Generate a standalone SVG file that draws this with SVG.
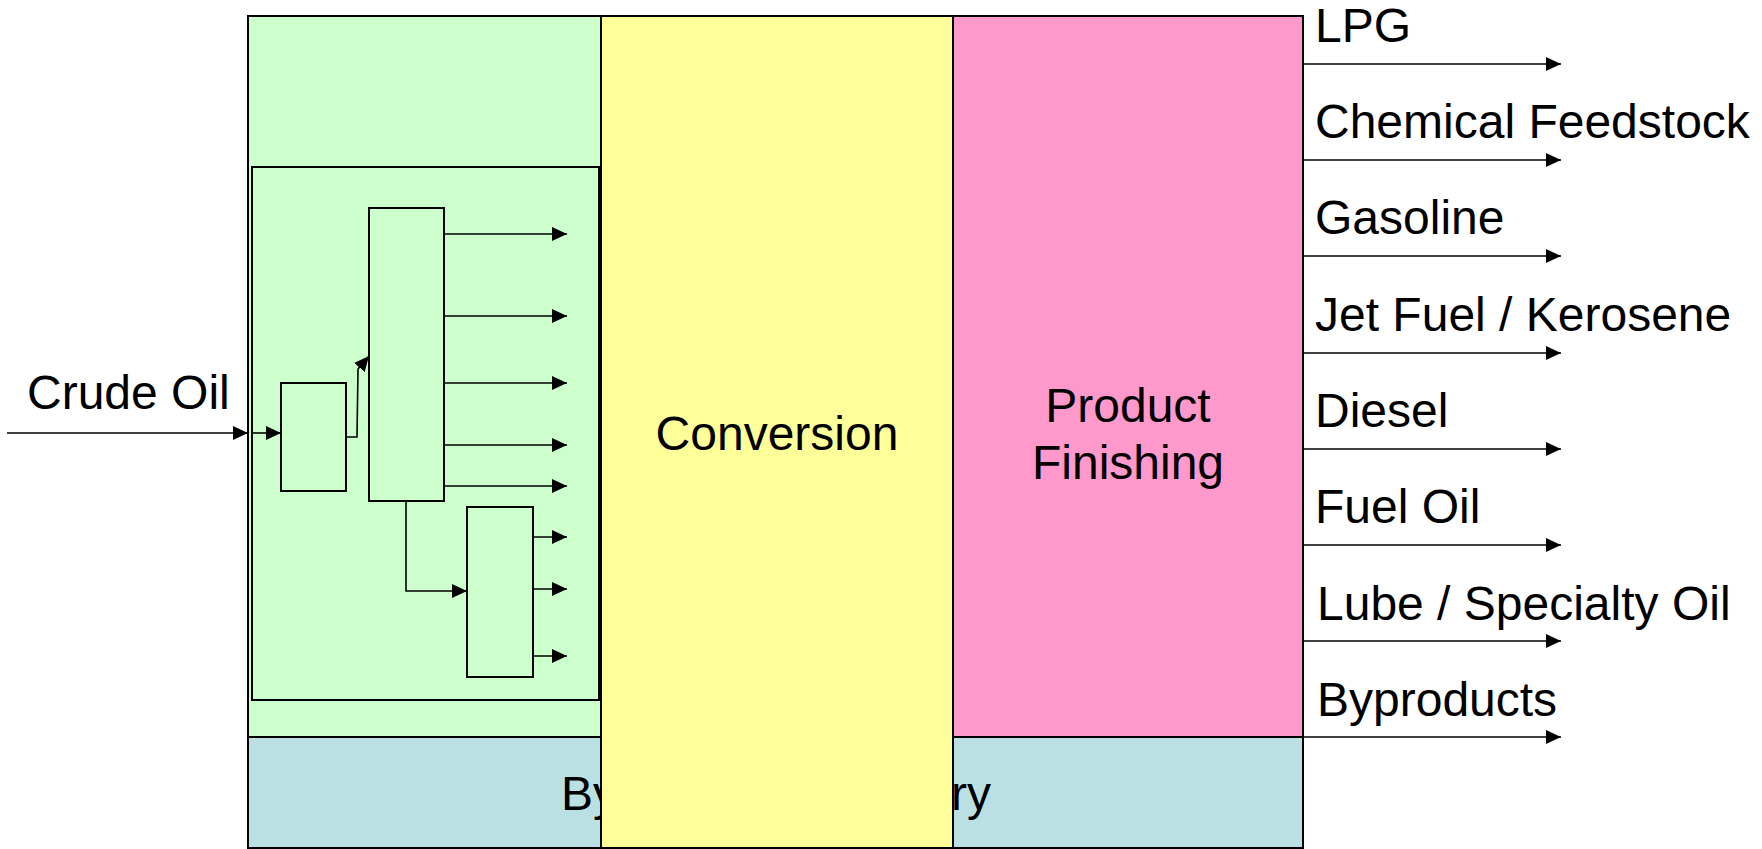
<svg xmlns="http://www.w3.org/2000/svg" width="1762" height="849" viewBox="0 0 1762 849">
<defs>
<style>
.box{stroke:#000;stroke-width:2}
.unit{fill:#CCFFCC;stroke:#000;stroke-width:2}
.ln{fill:none;stroke:#000;stroke-width:1.6;marker-end:url(#ah)}
.t{font-family:"Liberation Sans",Arial,sans-serif;font-size:48px;fill:#000}
</style>
<marker id="ah" viewBox="0 0 15 14" refX="15" refY="7" markerWidth="15" markerHeight="14" markerUnits="userSpaceOnUse" orient="auto">
<path d="M0,0 L15,7 L0,14 Z" fill="#000"/>
</marker>
</defs>
<rect width="1762" height="849" fill="#fff"/>
<g id="separation">
<rect class="box" x="248" y="16" width="353" height="721" fill="#CCFFCC"/>
</g>
<g id="support">
<rect class="box" x="248" y="737" width="1055" height="111" fill="#BBE0E3"/>
<text class="t" x="561" y="810">By</text>
<text class="t" x="991" y="810" text-anchor="end">ry</text>
</g>
<g id="conversion">
<rect class="box" x="601" y="16" width="352" height="832" fill="#FFFF99"/>
<text class="t" x="777" y="450" text-anchor="middle">Conversion</text>
</g>
<g id="finishing">
<rect class="box" x="953" y="16" width="350" height="721" fill="#FF99CC"/>
<text class="t" x="1128" y="422" text-anchor="middle">Product</text>
<text class="t" x="1128" y="479" text-anchor="middle">Finishing</text>
</g>
<g id="distillation">
<rect class="unit" x="252" y="167" width="347" height="533"/>
</g>
<g id="desalter"><rect class="unit" x="281" y="383" width="65" height="108"/></g>
<g id="atm-column"><rect class="unit" x="369" y="208" width="75" height="293"/></g>
<g id="vac-column"><rect class="unit" x="467" y="507" width="66" height="170"/></g>
<g id="crude-label"><text class="t" x="27" y="409">Crude Oil</text></g>
<g id="product-labels">
<text class="t" x="1315" y="42">LPG</text>
<text class="t" x="1315" y="138">Chemical Feedstock</text>
<text class="t" x="1315" y="234">Gasoline</text>
<text class="t" x="1315" y="331">Jet Fuel / Kerosene</text>
<text class="t" x="1315" y="427">Diesel</text>
<text class="t" x="1315" y="523">Fuel Oil</text>
<text class="t" x="1317" y="620">Lube / Specialty Oil</text>
<text class="t" x="1317" y="716">Byproducts</text>
</g>
<g id="connectors">
<path class="ln" d="M7,433 H248"/>
<path class="ln" d="M252,433 H281"/>
<path class="ln" d="M346,437 H357 L358,369 L369,356"/>
<path class="ln" d="M444,234 H567"/>
<path class="ln" d="M444,316 H567"/>
<path class="ln" d="M444,383 H567"/>
<path class="ln" d="M444,445 H567"/>
<path class="ln" d="M444,486 H567"/>
<path class="ln" d="M406,501 V591 H467"/>
<path class="ln" d="M533,537 H567"/>
<path class="ln" d="M533,589 H567"/>
<path class="ln" d="M533,656 H567"/>
<path class="ln" d="M1303,64 H1561"/>
<path class="ln" d="M1303,160 H1561"/>
<path class="ln" d="M1303,256 H1561"/>
<path class="ln" d="M1303,353 H1561"/>
<path class="ln" d="M1303,449 H1561"/>
<path class="ln" d="M1303,545 H1561"/>
<path class="ln" d="M1303,641 H1561"/>
<path class="ln" d="M1303,737 H1561"/>
</g>
</svg>
